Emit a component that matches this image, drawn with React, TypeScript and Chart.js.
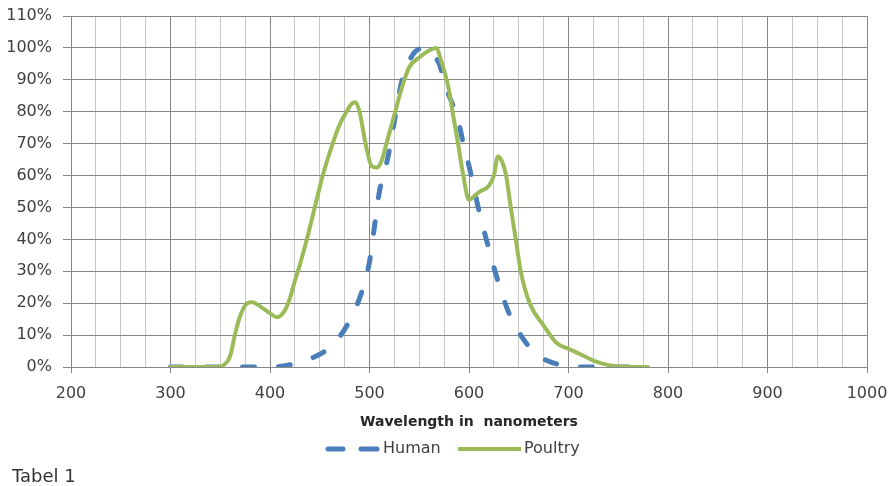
import React, { useEffect, useRef } from "react";
import { Chart, registerables } from "chart.js";

Chart.register(...registerables);

// ---------- data ----------
const seriesNames = ["Human", "Poultry"];

const humanWavelengths = [
  300, 320, 340, 360, 380, 400, 410, 420, 430, 440, 450, 460, 470, 480, 490, 495, 500, 505, 510, 515,
  520, 525, 530, 535, 540, 545, 550, 555, 560, 570, 575, 580, 585, 590, 595, 600, 605, 610, 620, 630,
  640, 650, 660, 670, 680, 690, 700, 710, 720, 740, 760, 780,
];
const humanValues = [
  0, 0, 0, 0, 0, 0, 0.2, 0.7, 1.5, 2.5, 4, 6, 9.5, 14.5, 21.5, 26.5, 33, 44, 55, 61,
  68, 77, 86, 92.5, 96, 98.5, 99.7, 100, 99.5, 95, 90, 85, 81, 76, 69, 63, 56, 49, 37, 26,
  17, 11, 6.5, 3.5, 1.8, 0.8, 0.3, 0, 0, 0, 0, 0,
];

const poultryWavelengths = [
  300, 320, 340, 350, 353, 360, 365, 370, 377, 382, 390, 400, 407, 415, 420, 425, 430, 437, 445, 453,
  463, 470, 477, 482, 486, 490, 496, 502, 507, 512, 517, 525, 532, 540, 550, 559, 567, 572, 579, 584,
  589, 594, 600, 605, 611, 620, 625, 629, 633, 637, 642, 647, 652, 661, 675, 688, 700, 712, 725, 742,
  760, 780,
];
const poultryValues = [
  0, 0, 0, 0.2, 0.5, 3.5, 10.5, 16, 20, 20.3, 19, 16.8, 15.6, 17.8, 21.5, 27, 32, 40, 50, 60,
  70, 76, 80, 82.5, 83, 80, 70, 63, 62.5, 64.5, 70, 79, 87, 94, 97, 99, 100, 96, 88, 79,
  70, 60.5, 52.3, 53.5, 55, 56.8, 60, 66, 64.5, 60.5, 50, 40, 30, 20, 13, 7.5, 5.7, 4, 2, 0.5,
  0.1, 0,
];

const xMin = 200;
const xMax = 1000;
const xMinorStep = 25;
const xMajorStep = 100;
const yMax = 110;
const yStep = 10;
const xAxisTitle = "Wavelength in  nanometers";
const captionText = "Tabel 1";

// ---------- styles ----------
const HUMAN_COLOR = "#4A7EBB";
const POULTRY_COLOR = "#9BBB59";
const MAJOR_GRID = "#878787";
const MINOR_GRID = "#c8c8c8";
const TEXT_COLOR = "#404040";
const FONT = '"DejaVu Sans", sans-serif';

const overlayPlugin = {
  id: "overlayLegend",
  afterDraw(chart: any) {
    const ctx = chart.ctx as CanvasRenderingContext2D;
    const ds = chart.data.datasets;
    ctx.save();
    const y = 449;
    // Human legend sample (dashed)
    ctx.strokeStyle = ds[0].borderColor;
    ctx.lineWidth = 5;
    ctx.lineCap = "round";
    ctx.beginPath();
    ctx.moveTo(328, y);
    ctx.lineTo(343, y);
    ctx.moveTo(361, y);
    ctx.lineTo(377, y);
    ctx.stroke();
    ctx.fillStyle = TEXT_COLOR;
    ctx.font = `16px ${FONT}`;
    ctx.textBaseline = "middle";
    ctx.textAlign = "left";
    ctx.fillText(ds[0].label, 383, y);
    // Poultry legend sample
    ctx.strokeStyle = ds[1].borderColor;
    ctx.lineWidth = 4;
    ctx.lineCap = "butt";
    ctx.beginPath();
    ctx.moveTo(458, y);
    ctx.lineTo(521, y);
    ctx.stroke();
    ctx.fillText(ds[1].label, 524, y);
    // caption
    ctx.fillStyle = "#333333";
    ctx.font = `18px ${FONT}`;
    ctx.fillText(captionText, 12, 477);
    ctx.restore();
  },
};

export default function App() {
  const canvasRef = useRef<HTMLCanvasElement | null>(null);

  useEffect(() => {
    if (!canvasRef.current) return;
    const humanData = humanWavelengths.map((x, i) => ({ x, y: humanValues[i] }));
    const poultryData = poultryWavelengths.map((x, i) => ({ x, y: poultryValues[i] }));

    const chart = new Chart(canvasRef.current, {
      type: "line",
      data: {
        datasets: [
          {
            label: seriesNames[0],
            data: humanData,
            borderColor: HUMAN_COLOR,
            backgroundColor: HUMAN_COLOR,
            borderWidth: 5,
            borderDash: [12, 24],
            borderCapStyle: "round",
            pointRadius: 0,
            cubicInterpolationMode: "monotone",
            fill: false,
            order: 2,
          },
          {
            label: seriesNames[1],
            data: poultryData,
            borderColor: POULTRY_COLOR,
            backgroundColor: POULTRY_COLOR,
            borderWidth: 4,
            borderCapStyle: "round",
            borderJoinStyle: "round",
            pointRadius: 0,
            cubicInterpolationMode: "monotone",
            fill: false,
            order: 1,
          },
        ],
      },
      options: {
        animation: false,
        responsive: false,
        maintainAspectRatio: false,
        layout: { padding: { left: 0, top: 16, right: 21, bottom: 0 } },
        plugins: {
          legend: { display: false },
          tooltip: { enabled: false },
          title: { display: false },
        },
        scales: {
          x: {
            type: "linear",
            min: xMin,
            max: xMax,
            afterFit: (scale: any) => {
              scale.height = 119;
              scale.paddingLeft = 0;
              scale.paddingRight = 0;
            },
            ticks: {
              stepSize: xMinorStep,
              autoSkip: false,
              maxRotation: 0,
              padding: 11,
              color: TEXT_COLOR,
              font: { family: FONT, size: 16 },
              callback: (v: any) => (Number(v) % xMajorStep === 0 ? String(v) : ""),
            },
            grid: {
              color: (c: any) => (c.tick && c.tick.value % xMajorStep === 0 ? MAJOR_GRID : MINOR_GRID),
              tickColor: (c: any) => (c.tick && c.tick.value % xMajorStep === 0 ? MAJOR_GRID : "rgba(0,0,0,0)"),
              lineWidth: 1,
              tickLength: 6,
            },
            border: { color: MAJOR_GRID, width: 1 },
            title: {
              display: true,
              text: xAxisTitle,
              color: "#262626",
              font: { family: FONT, size: 14, weight: "bold" },
              padding: { top: 4, bottom: 55.6 },
            },
          },
          y: {
            type: "linear",
            min: 0,
            max: yMax,
            afterFit: (scale: any) => {
              scale.width = 71;
              scale.paddingTop = 0;
              scale.paddingBottom = 0;
            },
            ticks: {
              stepSize: yStep,
              padding: 11,
              color: TEXT_COLOR,
              font: { family: FONT, size: 16 },
              callback: (v: any) => `${v}%`,
            },
            grid: {
              color: MAJOR_GRID,
              tickColor: MAJOR_GRID,
              lineWidth: 1,
              tickLength: 8,
            },
            border: { color: MAJOR_GRID, width: 1 },
          },
        },
      },
      plugins: [overlayPlugin],
    } as any);

    return () => {
      chart.destroy();
    };
  }, []);

  return (
    <div style={{ position: "absolute", left: 0, top: 0, width: 888, height: 486, background: "#ffffff" }}>
      <canvas ref={canvasRef} width={888} height={486} style={{ display: "block" }} />
    </div>
  );
}
